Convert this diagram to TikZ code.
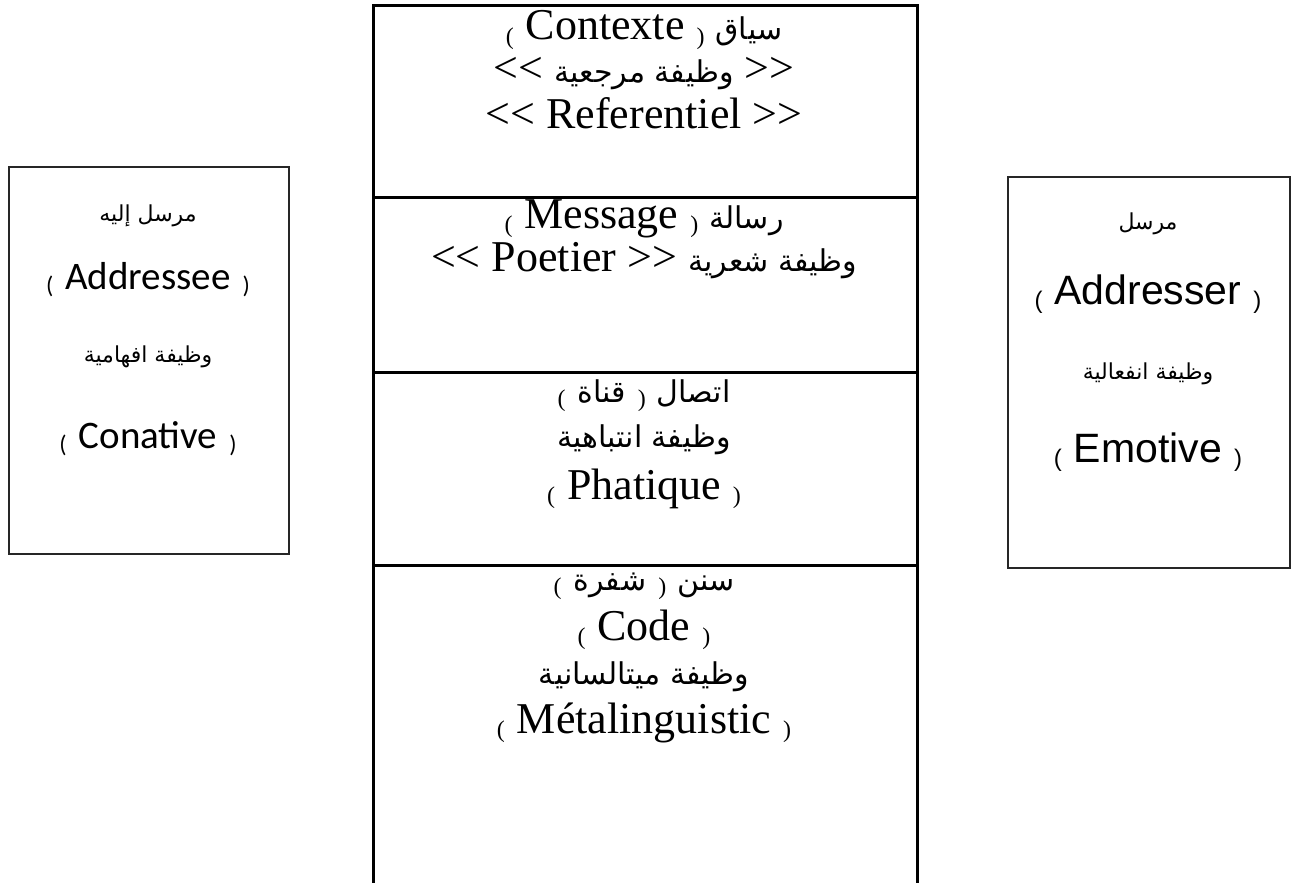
\documentclass[tikz,border=0pt]{standalone}
\usepackage{fontspec}
\setmainfont{Liberation Serif}
\newfontfamily\arabicfont[Script=Arabic]{DejaVu Sans}
\newfontfamily\califont{Carlito}
\newfontfamily\arialfont{Liberation Sans}
\TeXXeTstate=1
\newcommand{\ar}[1]{{\arabicfont\beginR #1\endR}}
\newcommand{\mar}[1]{\ar{\fontsize{15}{18}\selectfont #1}}
\newcommand{\po}{\raisebox{-2pt}{\fontsize{12}{12}\selectfont(}\hspace{6pt}}
\newcommand{\pc}{\hspace{6pt}\raisebox{-2pt}{\fontsize{12}{12}\selectfont)}}

\tikzset{
  colbox/.style={draw, line width=1.5pt, minimum width=272pt, anchor=north west, inner sep=0pt},
  sidebox/.style={draw, line width=1pt, draw=black!85, anchor=north west, inner sep=0pt},
  midtxt/.style={inner sep=0pt, anchor=base, font=\fontsize{22}{24}\selectfont},
  lefttxt/.style={inner sep=0pt, anchor=base, font=\califont\fontsize{19.5}{22}\selectfont},
  righttxt/.style={inner sep=0pt, anchor=base, font=\arialfont\fontsize{20.5}{22}\selectfont},
  artxt/.style={inner sep=0pt, anchor=base, font=\fontsize{15}{18}\selectfont},
  smallar/.style={inner sep=0pt, anchor=base, font=\fontsize{11}{14}\selectfont}
}

\begin{document}
\begin{tikzpicture}[x=0.5pt, y=-0.5pt]
	\useasboundingbox (0,0) rectangle (1291,883);
	% middle column
	\node[colbox, minimum height=96pt] (ctx) at (372,4) {};
	\node[colbox, minimum height=87.5pt] (msg) at (372,196) {};
	\node[colbox, minimum height=96.5pt] (pha) at (372,371) {};
	\node[colbox, minimum height=163pt] (cod) at (372,564) {};
	\node[midtxt] (ctx1) at (644,40) {\po Contexte\pc\ \mar{سياق}};
	\node[midtxt] (ctx2) at (644,83) {<{}<\ \mar{وظيفة مرجعية}\ >{}>};
	\node[midtxt] (ctx3) at (644,129) {<{}< Referentiel >{}>};
	\node[midtxt] (msg1) at (644,228) {\po Message\pc\ \mar{رسالة}};
	\node[midtxt] (msg2) at (644,271) {<{}< Poetier >{}>\ \mar{وظيفة شعرية}};
	\node[midtxt] (pha1) at (644,402) {\po\mar{قناة}\pc\ \mar{اتصال}};
	\node[artxt] (pha2) at (644,447) {\ar{وظيفة انتباهية}};
	\node[midtxt] (pha3) at (644,499) {\po Phatique\pc};
	\node[midtxt] (cod1) at (644,590) {\po\mar{شفرة}\pc\ \mar{سنن}};
	\node[midtxt] (cod2) at (644,640) {\po Code\pc};
	\node[artxt] (cod3) at (644,684) {\ar{وظيفة ميتالسانية}};
	\node[midtxt] (cod4) at (644,733) {\po Métalinguistic\pc};
	% addressee
	\node[sidebox, minimum width=140pt, minimum height=193.5pt] (dest) at (8,166) {};
	\node[smallar] (dest1) at (148,221) {\ar{مرسل إليه}};
	\node[lefttxt] (dest2) at (148,289) {\po Addressee\pc};
	\node[smallar] (dest3) at (148,362) {\ar{وظيفة افهامية}};
	\node[lefttxt] (dest4) at (148,448) {\po Conative\pc};
	% addresser
	\node[sidebox, minimum width=141pt, minimum height=195.5pt] (src) at (1007,176) {};
	\node[smallar] (src1) at (1148,229) {\ar{مرسل}};
	\node[righttxt] (src2) at (1148,304) {\po Addresser\pc};
	\node[smallar] (src3) at (1148,379) {\ar{وظيفة انفعالية}};
	\node[righttxt] (src4) at (1148,462) {\po Emotive\pc};
\end{tikzpicture}
\end{document}
